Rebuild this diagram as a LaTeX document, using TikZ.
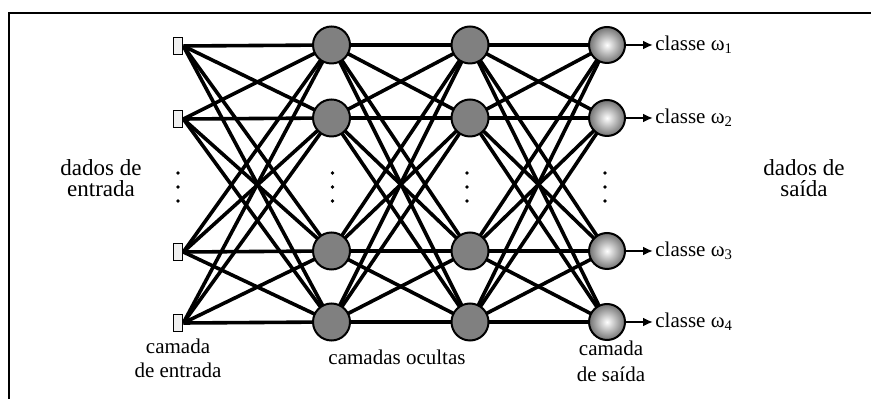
\documentclass[tikz,border=0pt]{standalone}
\usepackage{fontspec}
\setmainfont{Liberation Serif}
\usetikzlibrary{arrows.meta,backgrounds}
\begin{document}
\begin{tikzpicture}[x=0.5pt,y=-0.5pt,
  every node/.style={font=\fontsize{10.5}{10.5}\selectfont},
  inbox/.style={draw=black, line width=0.8pt, fill=black!6, minimum width=4.5pt, minimum height=8.5pt, inner sep=0pt},
  hid/.style={circle, draw=black, line width=1pt, fill=black!50, minimum size=18.5pt, inner sep=0pt},
  outn/.style={circle, draw=black, line width=1pt, inner color=white, outer color=black!55, minimum size=18pt, inner sep=0pt},
  conn/.style={line width=1.8pt, black},
  lbl/.style={anchor=west, inner sep=1pt},
  side/.style={align=center, anchor=base, font=\fontsize{11.5}{10.5}\selectfont}
]
\useasboundingbox (0,0) rectangle (871,399);
\draw[line width=1pt] (8.5,400) -- (8.5,13.5) -- (871,13.5);

\foreach \i/\y in {1/45,2/118,3/251,4/322}{
  \node[inbox] (i\i) at (178,\y+1) {};
  \node[hid] (a\i) at (331.5,\y) {};
  \node[hid] (b\i) at (470,\y) {};
  \node[outn] (o\i) at (607,\y) {};
}
\begin{scope}[on background layer]
\foreach \i in {1,...,4}{
  \foreach \j in {1,...,4}{
    \draw[conn] (i\i.east) -- (a\j.center);
    \draw[conn] (a\i.center) -- (b\j.center);
    \draw[conn] (b\i.center) -- (o\j.center);
  }
}
\end{scope}

\foreach \i/\y in {1/45,2/118,3/251,4/322}{
  \node[lbl] (l\i) at (653,\y) {classe ω\textsubscript{\i}};
  \draw[line width=1.4pt,-{Latex[length=5pt,width=4.5pt]}] (o\i) -- (l\i.west);
}

\foreach \x in {178,332.5,467,605}{
  \foreach \y in {173,187,201}{
    \fill (\x,\y) circle (0.9pt);
  }
}

\node[side] (din) at (101,197) {dados de\\entrada};
\node[side] (dout) at (804,197) {dados de\\saída};
\node[align=center, anchor=base, font=\fontsize{10.5}{12}\selectfont] (cin) at (178,378) {camada\\de entrada};
\node[anchor=base] (coc) at (397,365) {camadas ocultas};
\node[align=center, anchor=base, font=\fontsize{10.5}{13}\selectfont] (cout) at (611,382) {camada\\de saída};
\end{tikzpicture}
\end{document}
